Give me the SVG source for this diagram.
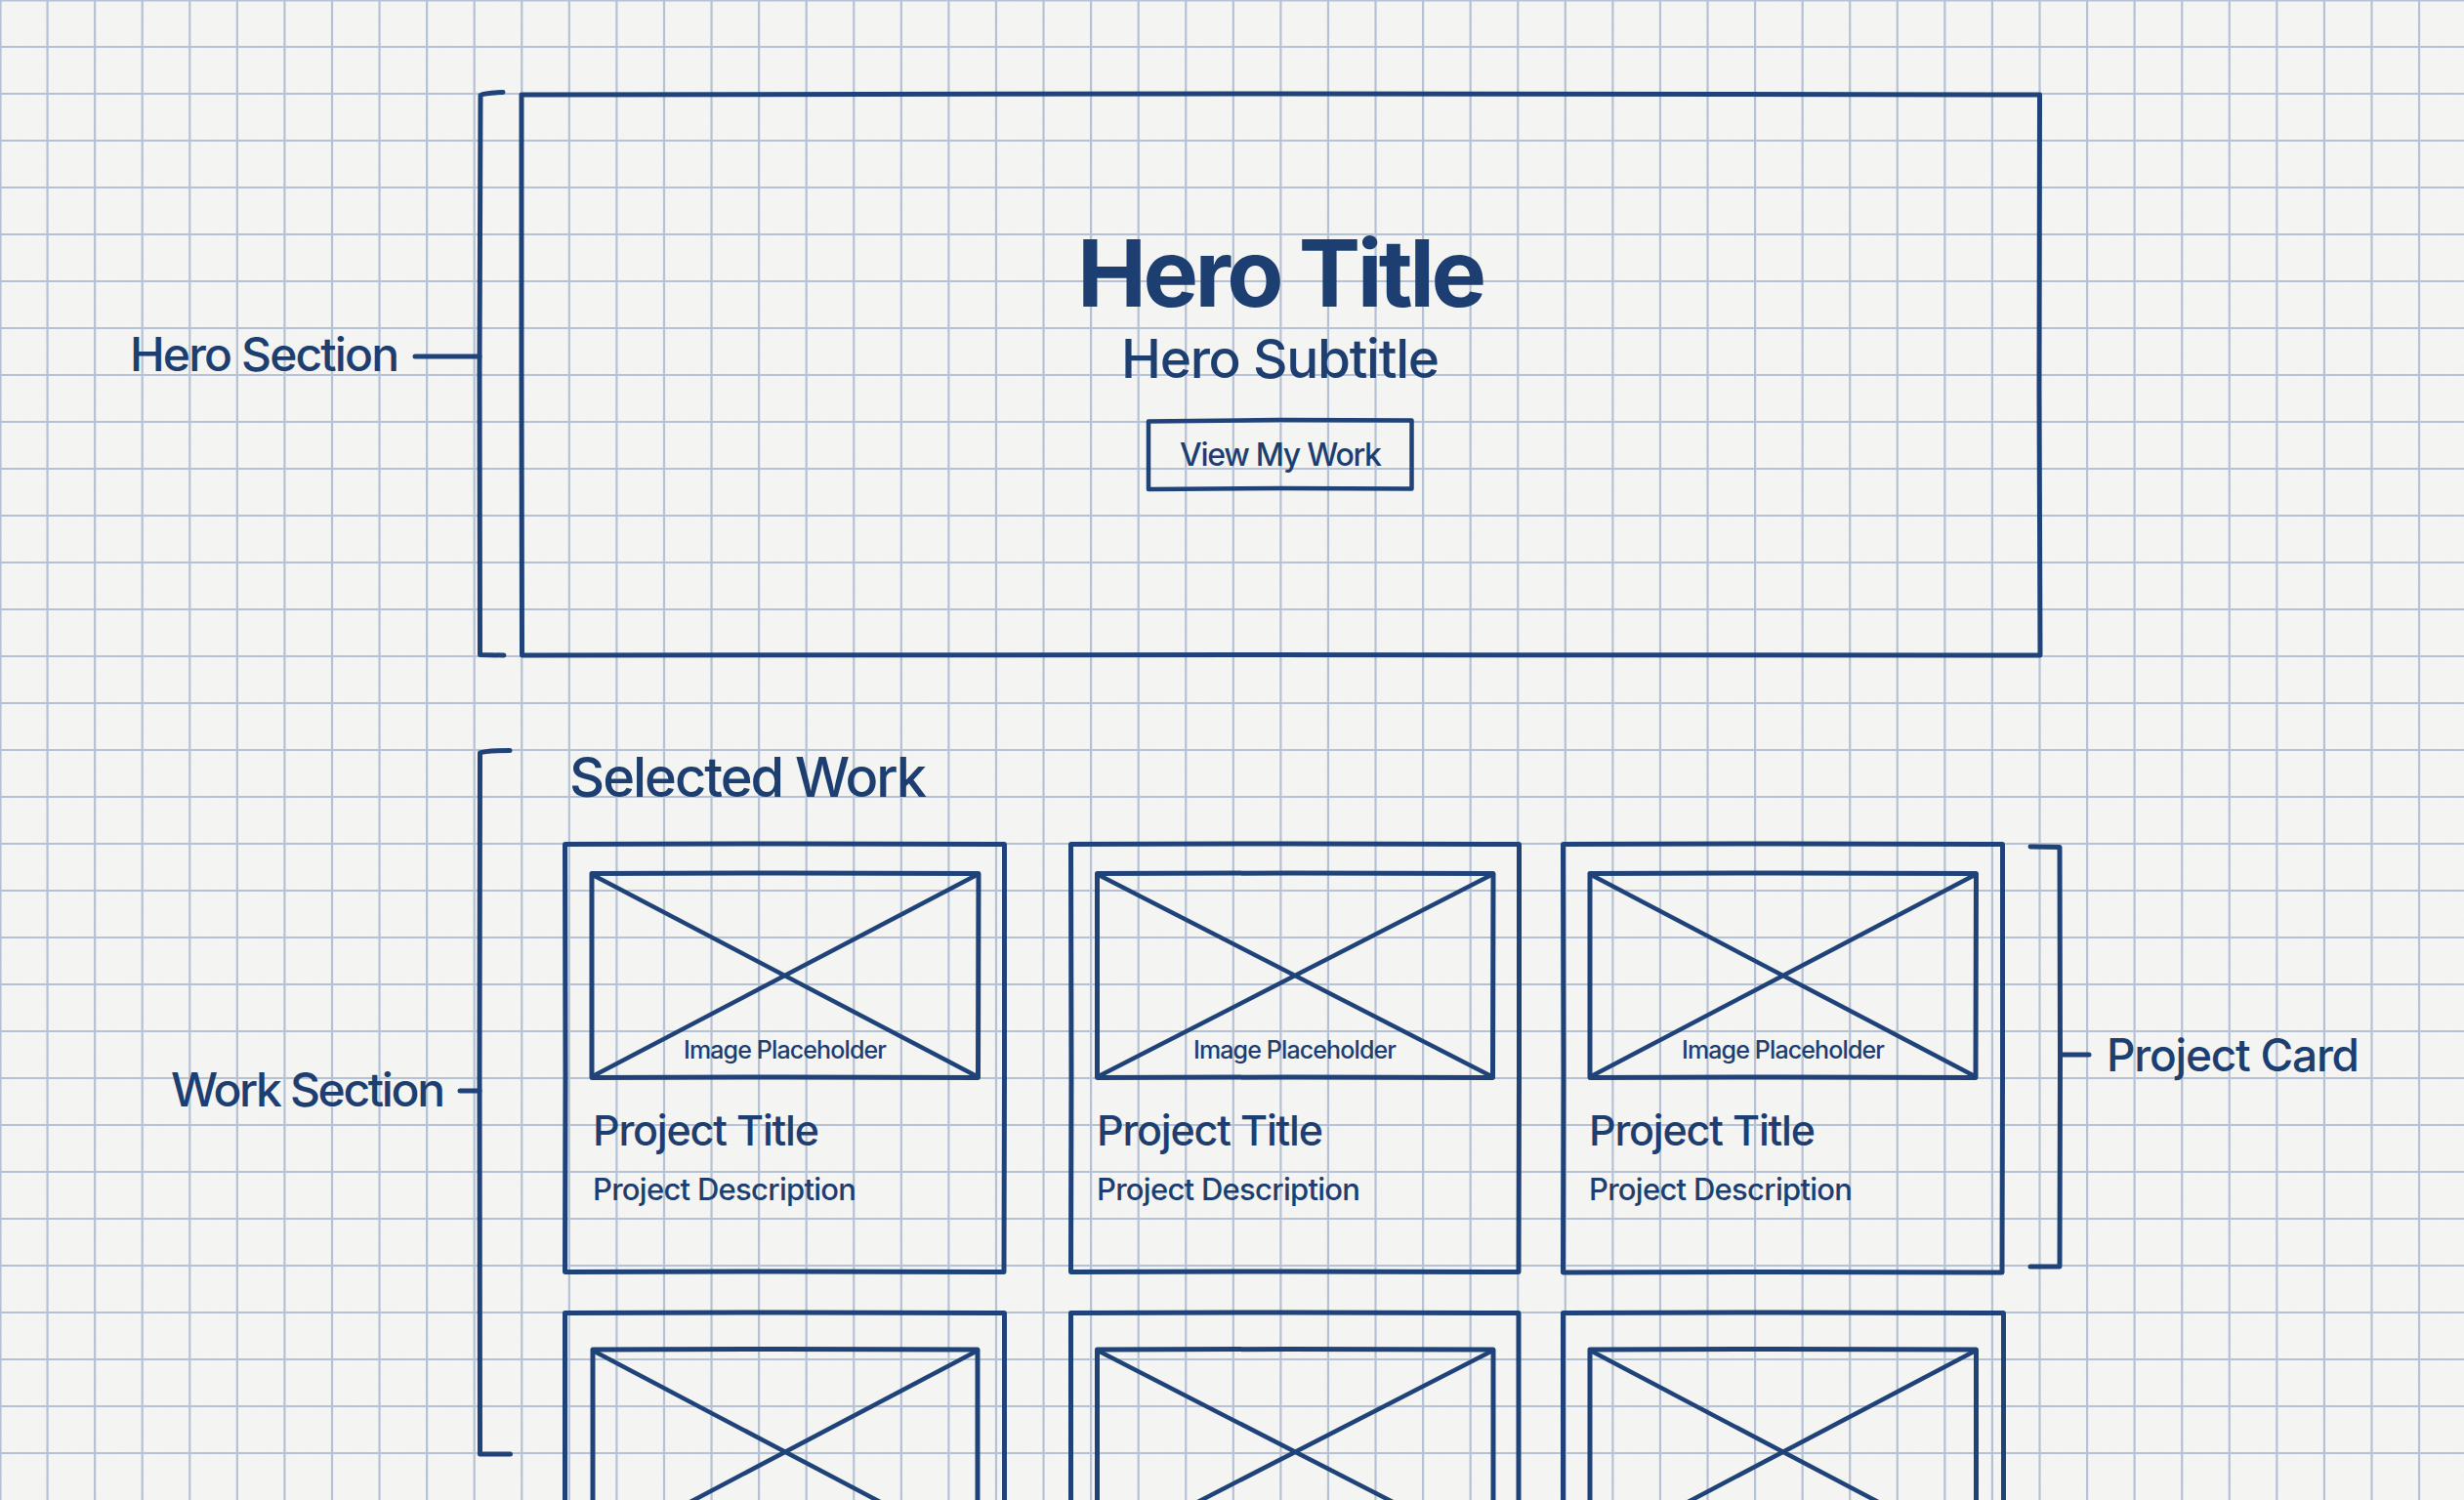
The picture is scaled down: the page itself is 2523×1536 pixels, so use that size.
<svg xmlns="http://www.w3.org/2000/svg" width="2523" height="1536" viewBox="0 0 2523 1536">
<defs>
<filter id="paper" x="0" y="0" width="100%" height="100%">
<feTurbulence type="fractalNoise" baseFrequency="0.9" numOctaves="2" seed="3" result="n"/>
<feColorMatrix in="n" type="matrix" values="0 0 0 0 0.55  0 0 0 0 0.56  0 0 0 0 0.6  0 0 0 0.08 0"/>
</filter>
<style>
.grid{stroke:#b5c1d4;stroke-width:2.2;fill:none}
.ink{stroke:#1f4379;stroke-width:5;fill:none;stroke-linecap:round;stroke-linejoin:round}
.thin{stroke:#1f4379;stroke-width:4.5;fill:none;stroke-linecap:round;stroke-linejoin:round}
.t{fill:#1d3e70;font-family:Inter,"Noto Sans","Liberation Sans",sans-serif;font-weight:500}
.lbl{font-size:48px}
.ptitle{font-size:43px}
.pdesc{font-size:31px}
.ph{font-size:25px}
</style>
</defs>
<g id="background">
<rect width="2523" height="1536" fill="#f6f6f4"/>
<rect width="2523" height="1536" filter="url(#paper)"/>
</g>
<g id="grid">
<path class="grid" d="M0.5 0V1536M48.57 0V1536M97.14 0V1536M145.71 0V1536M194.28 0V1536M242.85 0V1536M291.42 0V1536M339.99 0V1536M388.56 0V1536M437.13 0V1536M485.7 0V1536M534.27 0V1536M582.84 0V1536M631.41 0V1536M679.98 0V1536M728.55 0V1536M777.12 0V1536M825.69 0V1536M874.26 0V1536M922.83 0V1536M971.4 0V1536M1019.97 0V1536M1068.54 0V1536M1117.11 0V1536M1165.68 0V1536M1214.25 0V1536M1262.82 0V1536M1311.39 0V1536M1359.96 0V1536M1408.53 0V1536M1457.1 0V1536M1505.67 0V1536M1554.24 0V1536M1602.81 0V1536M1651.38 0V1536M1699.95 0V1536M1748.52 0V1536M1797.09 0V1536M1845.66 0V1536M1894.23 0V1536M1942.8 0V1536M1991.37 0V1536M2039.94 0V1536M2088.51 0V1536M2137.08 0V1536M2185.65 0V1536M2234.22 0V1536M2282.79 0V1536M2331.36 0V1536M2379.93 0V1536M2428.5 0V1536M2477.07 0V1536M0 0.5H2523M0 48H2523M0 96H2523M0 144H2523M0 192H2523M0 240H2523M0 288H2523M0 336H2523M0 384H2523M0 432H2523M0 480H2523M0 528H2523M0 576H2523M0 624H2523M0 672H2523M0 720H2523M0 768H2523M0 816H2523M0 864H2523M0 912H2523M0 960H2523M0 1008H2523M0 1056H2523M0 1104H2523M0 1152H2523M0 1200H2523M0 1248H2523M0 1296H2523M0 1344H2523M0 1392H2523M0 1440H2523M0 1488H2523"/>
</g>
<g id="hero-section">
<path class="ink" d="M534 97 L1300 96 L2088.5 97 L2088 400 L2089 671 L1300 670.5 L534.5 671 L534 380 Z"/>
<text class="t" x="1103" y="314" font-size="95" style="font-weight:700" textLength="419">Hero Title</text>
<text class="t" x="1148" y="387" font-size="55" textLength="326">Hero Subtitle</text>
<g id="view-my-work-button">
<path class="thin" d="M1176 431.5 L1310 430 L1445.5 430.5 L1445.5 500.5 L1310 500 L1176 501 Z"/>
<text class="t" x="1208" y="477" font-size="32" textLength="207">View My Work</text>
</g>
</g>
<g id="hero-section-label">
<text class="t lbl" x="133" y="380" textLength="276">Hero Section</text>
</g>
<g id="selected-work-heading">
<text class="t" x="583" y="816" font-size="56" textLength="366">Selected Work</text>
</g>
<g id="work-section-label">
<text class="t lbl" x="175" y="1133" textLength="281">Work Section</text>
</g>
<g id="project-card-label">
<text class="t" x="2157" y="1097" font-size="46" textLength="259">Project Card</text>
</g>
<g id="card-1">
<path class="ink" d="M578.5 864.5 L800 864 L1028.5 864.5 L1028.5 1100 L1028 1302.5 L800 1302 L578.5 1302.5 L579 1100 Z"/>
<path class="ink" d="M606 894.5 L800 894 L1002 894.5 L1001.5 1103.5 L800 1103 L606 1103.5 Z"/>
<path class="thin" d="M607 896 L1000 1102 M1000 896 L607 1102"/>
<text class="t ph" x="700" y="1084" textLength="208">Image Placeholder</text>
<text class="t ptitle" x="607" y="1173" textLength="232">Project Title</text>
<text class="t pdesc" x="607" y="1229" textLength="270">Project Description</text>
</g>
<g id="card-2">
<path class="ink" d="M1096.5 864.5 L1320 864 L1555.5 864.5 L1555.5 1100 L1555 1302.5 L1320 1302 L1096.5 1302.5 L1097 1100 Z"/>
<path class="ink" d="M1123.5 894.5 L1320 894 L1529 894.5 L1528.5 1103.5 L1320 1103 L1123.5 1103.5 Z"/>
<path class="thin" d="M1125 896 L1527 1102 M1527 896 L1125 1102"/>
<text class="t ph" x="1222" y="1084" textLength="208">Image Placeholder</text>
<text class="t ptitle" x="1123" y="1173" textLength="232">Project Title</text>
<text class="t pdesc" x="1123" y="1229" textLength="270">Project Description</text>
</g>
<g id="card-3">
<path class="ink" d="M1600.5 864.5 L1820 864 L2050.5 864.5 L2050.5 1100 L2050 1303 L1820 1302.5 L1600.5 1303 L1601 1100 Z"/>
<path class="ink" d="M1628 894.5 L1820 894 L2023.5 894.5 L2023 1103.5 L1820 1103 L1628 1103.5 Z"/>
<path class="thin" d="M1629.5 896 L2022 1102 M2022 896 L1629.5 1102"/>
<text class="t ph" x="1722" y="1084" textLength="208">Image Placeholder</text>
<text class="t ptitle" x="1627" y="1173" textLength="232">Project Title</text>
<text class="t pdesc" x="1627" y="1229" textLength="270">Project Description</text>
</g>
<g id="card-4">
<path class="ink" d="M578.5 1600 L578.5 1344.5 L800 1344 L1028.5 1344.5 L1028.5 1600"/>
<path class="ink" d="M607 1600 L607 1382 L800 1381.5 L1001 1382 L1001 1600"/>
<path class="thin" d="M608 1383.5 L1000 1590 M1000 1383.5 L608 1590"/>
</g>
<g id="card-5">
<path class="ink" d="M1096.5 1600 L1096.5 1344.5 L1320 1344 L1555 1344.5 L1555 1600"/>
<path class="ink" d="M1123.5 1600 L1123.5 1382 L1320 1381.5 L1529 1382 L1529 1600"/>
<path class="thin" d="M1125 1383.5 L1527.5 1590 M1527.5 1383.5 L1125 1590"/>
</g>
<g id="card-6">
<path class="ink" d="M1600.5 1600 L1600.5 1344.5 L1820 1344 L2051.5 1344.5 L2051.5 1600"/>
<path class="ink" d="M1628 1600 L1628 1382 L1820 1381.5 L2023.5 1382 L2023.5 1600"/>
<path class="thin" d="M1629.5 1383.5 L2022 1590 M2022 1383.5 L1629.5 1590"/>
</g>
<g id="connectors">
<path class="ink" d="M515 94.5 Q496 95 492 97.5 L491 380 L491.5 670.5 L516 671"/>
<path class="ink" d="M425 365 L491 365"/>
<path class="ink" d="M522 768.5 Q496 768.5 491.5 771 L491 1100 L491.5 1489 L522.5 1489"/>
<path class="ink" d="M471 1117 L491 1117"/>
<path class="ink" d="M2079 867 L2109 867.5 L2109.5 1080 L2109 1297 L2079 1297"/>
<path class="ink" d="M2109.5 1080 L2139 1080"/>
</g>
</svg>
